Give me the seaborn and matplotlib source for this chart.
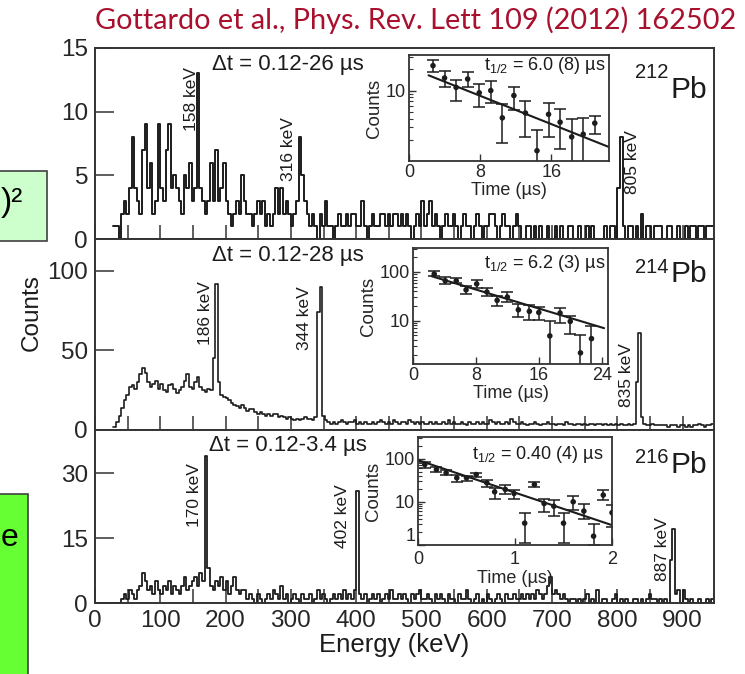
import numpy as np
import pandas as pd
import matplotlib
matplotlib.use("Agg")
import matplotlib.pyplot as plt
from matplotlib.patches import Rectangle
from matplotlib.ticker import MultipleLocator, LogLocator, NullFormatter
import seaborn as sns

sns.set_style("ticks")
plt.rcParams["font.family"] = ["Liberation Sans", "DejaVu Sans"]
plt.rcParams["mathtext.fontset"] = "custom"
plt.rcParams["mathtext.rm"] = "Liberation Sans"
plt.rcParams["mathtext.it"] = "Liberation Sans"

# ---------------- gamma spectra (4 keV bins starting at 28 keV) ----------------
BIN_START_KEV = 28
BIN_WIDTH_KEV = 4

counts_212pb = [
    1, 1, 0, 2, 3, 2, 4, 8, 4, 3,
    2, 7, 9, 4, 6, 2, 3, 9, 4, 3,
    7, 9, 4, 5, 4, 3, 2, 5, 4, 6,
    3, 4, 13, 4, 3, 2, 3, 6, 3, 7,
    3, 4, 6, 3, 2, 1, 2, 3, 2, 5,
    3, 2, 2, 1, 2, 3, 2, 3, 1, 2,
    1, 2, 4, 2, 4, 2, 3, 2, 1, 2,
    3, 8, 5, 3, 2, 1, 2, 1, 0, 2,
    1, 3, 1, 1, 0, 1, 2, 1, 1, 2,
    1, 2, 2, 1, 1, 3, 1, 0, 1, 2,
    1, 1, 2, 2, 1, 2, 1, 2, 2, 1,
    2, 1, 2, 1, 0, 1, 2, 1, 3, 1,
    2, 3, 1, 2, 1, 0, 1, 2, 1, 1,
    2, 1, 0, 1, 2, 1, 1, 0, 1, 2,
    1, 0, 1, 1, 2, 2, 1, 0, 1, 2,
    1, 1, 0, 1, 2, 1, 0, 0, 1, 1,
    0, 1, 0, 1, 0, 0, 1, 0, 0, 1,
    0, 1, 0, 0, 1, 1, 0, 0, 1, 0,
    0, 1, 0, 1, 0, 0, 0, 0, 1, 0,
    1, 1, 0, 4, 8, 1, 0, 1, 1, 0,
    1, 0, 2, 0, 1, 1, 0, 1, 1, 1,
    0, 0, 1, 1, 0, 0, 1, 0, 0, 1,
    0, 1, 1, 0, 1, 1, 0, 1, 1, 1,
]

counts_214pb = [
    2, 5, 9, 14, 19, 22, 27, 28, 26, 30,
    35, 39, 36, 30, 27, 29, 31, 26, 29, 25,
    24, 28, 29, 26, 23, 25, 27, 31, 35, 27,
    26, 30, 33, 27, 25, 24, 26, 25, 45, 92,
    30, 22, 21, 20, 19, 17, 16, 15, 14, 16,
    14, 12, 13, 13, 11, 10, 11, 10, 9, 10,
    9, 10, 10, 8, 9, 8, 7, 8, 7, 6,
    7, 6, 7, 8, 7, 7, 6, 8, 74, 90,
    9, 6, 5, 4, 5, 4, 5, 6, 5, 4,
    5, 5, 6, 4, 5, 4, 5, 4, 4, 5,
    4, 5, 6, 5, 4, 5, 4, 6, 5, 4,
    5, 5, 4, 6, 5, 4, 5, 4, 5, 4,
    4, 5, 4, 5, 4, 4, 5, 4, 6, 4,
    5, 4, 4, 5, 4, 3, 5, 4, 4, 5,
    4, 5, 4, 4, 6, 5, 4, 5, 4, 4,
    5, 4, 7, 5, 4, 4, 5, 4, 3, 4,
    4, 5, 4, 3, 4, 4, 5, 4, 4, 3,
    4, 4, 3, 5, 4, 4, 3, 4, 4, 3,
    4, 3, 4, 4, 3, 4, 4, 3, 4, 3,
    4, 3, 4, 3, 4, 3, 3, 4, 3, 4,
    30, 61, 8, 4, 3, 3, 4, 3, 3, 3,
    3, 3, 2, 3, 3, 3, 2, 3, 3, 2,
    3, 2, 3, 3, 4, 3, 2, 3, 3, 4,
]

counts_216pb = [
    0, 0, 0, 1, 2, 1, 3, 2, 1, 3,
    4, 7, 5, 3, 4, 2, 5, 3, 2, 4,
    3, 5, 2, 4, 3, 2, 4, 6, 3, 4,
    5, 6, 4, 7, 5, 34, 8, 4, 3, 5,
    4, 6, 3, 5, 2, 4, 6, 3, 2, 3,
    3, 1, 2, 1, 0, 2, 1, 0, 1, 2,
    1, 3, 2, 1, 4, 1, 2, 0, 1, 2,
    1, 0, 2, 1, 1, 2, 0, 1, 3, 1,
    2, 1, 0, 1, 2, 1, 2, 1, 3, 1,
    2, 1, 3, 26, 2, 1, 2, 0, 1, 2,
    1, 2, 0, 1, 2, 1, 3, 1, 1, 2,
    1, 2, 1, 0, 2, 1, 2, 3, 1, 1,
    2, 1, 0, 2, 1, 2, 1, 0, 2, 1,
    1, 0, 2, 1, 1, 3, 1, 0, 1, 2,
    0, 1, 0, 2, 1, 0, 1, 2, 1, 0,
    2, 1, 1, 2, 1, 1, 2, 1, 2, 1,
    2, 1, 3, 2, 1, 2, 4, 6, 2, 3,
    2, 1, 2, 1, 0, 1, 1, 0, 1, 0,
    1, 2, 0, 1, 0, 3, 0, 1, 1, 0,
    0, 1, 2, 0, 1, 0, 1, 0, 0, 1,
    1, 0, 1, 0, 1, 2, 1, 1, 0, 1,
    0, 1, 0, 10, 17, 2, 3, 0, 3, 1,
    0, 1, 0, 0, 1, 0, 0, 1, 0, 1,
]

isotopes = ["212", "214", "216"]
gate_labels = ["\u0394t = 0.12-26 \u00b5s", "\u0394t = 0.12-28 \u00b5s", "\u0394t = 0.12-3.4 \u00b5s"]
y_max = [14.8, 120, 40]
y_ticks = [[0, 5, 10, 15], [0, 50, 100], [0, 15, 30]]

# labelled transitions: energy (keV) and the height of its peak bin
peak_energy = [[158, 316, 805], [186, 344, 835], [170, 402, 887]]
peak_height = [[13, 8, 8], [92, 90, 61], [34, 26, 17]]

# ---------------- decay curves (insets) ----------------
time_212 = [2.7, 4.0, 5.3, 6.6, 7.9, 9.2, 10.5, 11.8, 13.1, 14.4, 15.7, 17.0, 18.3, 19.6, 20.9]
decay_212 = [22.6, 15.1, 11.1, 14.6, 9.3, 10.0, 4.1, 8.5, 4.8, 1.4, 4.6, 3.56, 2.2, 2.4, 3.45]
low_212 = [18.2, 11.1, 7.2, 11.4, 5.8, 6.7, 1.8, 5.3, 2.2, 0.8, 2.2, 1.5, 0.8, 0.8, 2.4]
high_212 = [27.5, 19.2, 14.2, 18.2, 12.4, 13.6, 6.5, 11.4, 7.2, 2.8, 6.7, 5.5, 4.0, 4.1, 4.4]

time_214 = [2.7, 4.1, 5.5, 6.75, 8.1, 9.4, 10.7, 12.0, 13.4, 14.8, 16.0, 17.4, 18.7, 20.0, 21.3, 22.7]
decay_214 = [91, 66, 66, 43, 57, 38.8, 26.2, 30.6, 16.8, 15.6, 14.8, 4.9, 14.4, 9.7, 2.2, 4.3]
low_214 = [81.5, 56.6, 59.4, 35.3, 46.9, 32.6, 20.3, 24.2, 11.7, 10.5, 10.5, 1.0, 8.9, 5.3, 1.0, 1.0]
high_214 = [103, 77.7, 75.3, 52.4, 67.4, 46.9, 32.6, 38.2, 22.4, 20.6, 18.8, 9.7, 18.2, 12.3, 5.2, 7.7]

time_216 = [0.07, 0.19, 0.29, 0.40, 0.50, 0.60, 0.71, 0.79, 0.90, 0.99,
            1.10, 1.20, 1.30, 1.40, 1.50, 1.60, 1.71, 1.81, 1.91, 2.00]
decay_216 = [72.8, 55.7, 46.7, 35.8, 35.8, 42.7, 27.4, 17.0, 19.3, 15.6,
             3.2, 25.1, 9.1, 7.9, 3.2, 10.0, 6.1, 1.6, 14.3, 5.6]
low_216 = [62, 49.2, 41.2, 29, 30.5, 37.8, 22.2, 11.9, 15.0, 11.9,
           1.09, 22.2, 5.9, 4.7, 1.09, 6.4, 3.9, 1.0, 10.9, 2.6]
high_216 = [83.8, 64.2, 53.8, 41.2, 39.8, 47.6, 32.8, 21.4, 25.1, 19.2,
            5.4, 29, 11.9, 10.9, 5.6, 13.5, 8.8, 3.0, 18.6, 8.4]

# exponential fits: half-life (us), fit range (us), counts at the centre of the range
half_life = [6.0, 6.2, 0.40]
half_life_text = ["6.0 (8)", "6.2 (3)", "0.40 (4)"]
fit_range = [[2.2, 22.5], [2.4, 24.3], [0.0, 2.0]]
fit_mid_counts = [5.1, 24.0, 16.3]

decay_sets = [
    (time_212, decay_212, low_212, high_212),
    (time_214, decay_214, low_214, high_214),
    (time_216, decay_216, low_216, high_216),
]
inset_xlim = [(0, 22.5), (0, 24.8), (0, 2.0)]
inset_xticks = [[0, 8, 16], [0, 8, 16, 24], [0, 1, 2]]
inset_ylim = [(1, 32), (1.3, 310), (1, 316)]
inset_yticks = [[10], [10, 100], [1, 10, 100]]

spectra = [counts_212pb, counts_214pb, counts_216pb]
spectrum_lw = [1.4, 1.2, 1.3]

# ---------------- layout (pixel boxes) ----------------
W, H = 745, 674
INK = "#1c1c1c"


def fig_rect(x0, y0, x1, y1):
    return [x0 / W, 1 - y1 / H, (x1 - x0) / W, (y1 - y0) / H]


panel_boxes = [(95, 48, 714, 239), (95, 239, 714, 430), (95, 430, 714, 603)]
inset_boxes = [(409, 55, 609, 161), (413, 248, 608, 364), (418, 437, 612, 545)]
peak_offsets_px = [[(-7, 6), (-13, 20), (12, 7)],
                   [(-11, 2), (-15, 0), (-14, -10)],
                   [(-12, -7), (-15, 6), (-12, 12)]]
gate_y = [0.911, 0.916, 0.913]
pb_y = [0.738, 0.776, 0.753]
mass_y = [0.921, 0.900, 0.896]
halflife_xy = [(0.98, 0.90), (0.985, 0.87), (0.955, 0.835)]
inset_xpad = [2, 2, 4.5]

fig = plt.figure(figsize=(W / 100, H / 100), dpi=100)

for k in range(3):
    ax = fig.add_axes(fig_rect(*panel_boxes[k]))
    counts = np.asarray(spectra[k], dtype=float)
    edges = BIN_START_KEV + BIN_WIDTH_KEV * np.arange(len(counts) + 1)
    spec = pd.DataFrame({"energy": 0.5 * (edges[:-1] + edges[1:]), "counts": counts})
    sns.histplot(data=spec, x="energy", weights="counts", bins=edges.tolist(),
                 element="step", fill=False, color=INK, linewidth=spectrum_lw[k], ax=ax)
    ax.set_xlim(0, 948)
    ax.set_ylim(0, y_max[k])
    ax.set_ylabel("")
    ax.set_xlabel("")
    ax.set_yticks(y_ticks[k])
    ax.xaxis.set_major_locator(MultipleLocator(100))
    ax.xaxis.set_minor_locator(MultipleLocator(50))
    ax.tick_params(axis="y", direction="in", length=14, width=1.1, color="#333333",
                   labelsize=17.5, pad=5, right=False)
    ax.tick_params(axis="x", which="both", direction="in", length=10, width=1.1,
                   color="#333333", labelsize=17.5, pad=5, top=False)
    if k < 2:
        ax.tick_params(axis="x", labelbottom=False)
    for sp in ax.spines.values():
        sp.set_visible(True)
        sp.set_linewidth(1.4)
        sp.set_color("#333333")

    ax.text(0.312, gate_y[k], gate_labels[k], transform=ax.transAxes,
            ha="center", va="center", fontsize=16, color=INK)
    ax.text(0.9887, pb_y[k], "Pb", transform=ax.transAxes, ha="right",
            va="baseline", fontsize=21.5, color=INK)
    ax.text(0.9257, mass_y[k], isotopes[k], transform=ax.transAxes, ha="right",
            va="top", fontsize=14.5, color=INK)

    for e, h, (dx, dy) in zip(peak_energy[k], peak_height[k], peak_offsets_px[k]):
        ax.annotate(f"{e} keV", xy=(e, h), xytext=(dx * 0.72, dy * 0.72),
                    textcoords="offset points", rotation=90, ha="center",
                    va="top", fontsize=12.5, color=INK)

    # decay-curve inset
    t, c, lo, hi = (np.asarray(a, dtype=float) for a in decay_sets[k])
    ins = fig.add_axes(fig_rect(*inset_boxes[k]))
    ins.set_yscale("log")
    ins.errorbar(t, c, yerr=[c - lo, hi - c], fmt="none", ecolor=INK,
                 elinewidth=1.1, capsize=4, capthick=1.1, zorder=2)
    pts = pd.DataFrame({"time": t, "counts": c})
    sns.scatterplot(data=pts, x="time", y="counts", ax=ins, color=INK, s=16,
                    edgecolor="none", zorder=3, legend=False)
    t_fit = np.asarray(fit_range[k], dtype=float)
    t_mid = t_fit.mean()
    fit = pd.DataFrame({"time": t_fit,
                        "counts": fit_mid_counts[k] * 2.0 ** (-(t_fit - t_mid) / half_life[k])})
    sns.lineplot(data=fit, x="time", y="counts", ax=ins, color=INK, linewidth=1.5)
    ins.set_xlim(*inset_xlim[k])
    ins.set_ylim(*inset_ylim[k])
    ins.set_xticks(inset_xticks[k])
    ins.set_yticks(inset_yticks[k], labels=[str(v) for v in inset_yticks[k]])
    ins.yaxis.set_minor_locator(LogLocator(base=10, subs=np.arange(2, 10)))
    ins.yaxis.set_minor_formatter(NullFormatter())
    ins.tick_params(which="major", direction="in", length=5, width=1.0,
                    labelsize=13, pad=2, color="#333333")
    ins.tick_params(axis="x", which="major", pad=inset_xpad[k])
    ins.tick_params(which="minor", direction="in", length=3, width=0.8, color="#333333")
    if inset_yticks[k][0] == 1:
        # lift the lowest decade label clear of the time-axis "0"
        ins.yaxis.get_major_ticks()[0].label1.set_va("bottom")
    ins.set_xlabel("Time (\u00b5s)", fontsize=13, labelpad=1)
    ins.set_ylabel("Counts", fontsize=13.5, labelpad=2)
    for sp in ins.spines.values():
        sp.set_visible(True)
        sp.set_linewidth(1.3)
        sp.set_color("#333333")
    hx, hy = halflife_xy[k]
    ins.text(hx, hy, f"t$_{{1/2}}$ = {half_life_text[k]} \u00b5s",
             transform=ins.transAxes, ha="right", va="center", fontsize=13, color=INK)

fig.text(32 / W, 1 - 313 / H, "Counts", rotation=90, ha="center", va="center",
         fontsize=17.5, color=INK)
fig.text(394 / W, 1 - 645 / H, "Energy (keV)", ha="center", va="center",
         fontsize=18.5, color=INK)

# reference line, stretched to run from the panel edge to the right margin
title = fig.text(95 / W, 1 - 20 / H, "Gottardo et al., Phys. Rev. Lett 109 (2012) 162502",
                 ha="left", va="center", fontsize=20, color="#A8102E",
                 family=["Lato", "DejaVu Sans"])
renderer = fig.canvas.get_renderer()
title_w = title.get_window_extent(renderer).width
title.set_fontsize(20 * (738 - 95) / title_w)

# side boxes from the surrounding slide
fig.add_artist(Rectangle((-2 / W, 1 - 241 / H), 49 / W, 70 / H, transform=fig.transFigure,
                         facecolor="#CCFFCC", edgecolor="#404040", linewidth=1.2))
fig.text(1 / W, 1 - 203 / H, ")\u00b2", ha="left", va="center", fontsize=24, color="black")
fig.add_artist(Rectangle((-2 / W, -10 / H), 30 / W, (674 - 494 + 10) / H,
                         transform=fig.transFigure, facecolor="#66FF33",
                         edgecolor="#404040", linewidth=1.2))
fig.text(1 / W, 1 - 546 / H, "e", ha="left", va="baseline", fontsize=23, color="black")

fig.savefig("out.png", dpi=100)
